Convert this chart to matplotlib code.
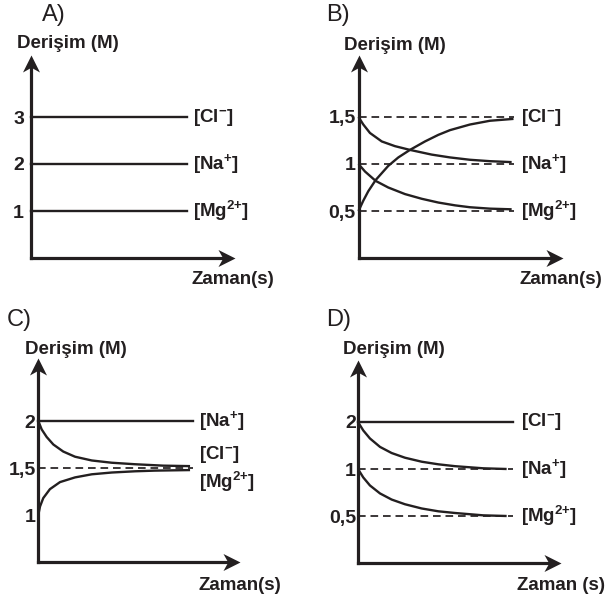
import numpy as np
import matplotlib
matplotlib.use('Agg')
import matplotlib.pyplot as plt
from matplotlib.path import Path

plt.rcParams['font.family'] = ['Liberation Sans', 'DejaVu Sans']
plt.rcParams['mathtext.fontset'] = 'custom'
plt.rcParams['mathtext.rm'] = 'Liberation Sans:bold'
plt.rcParams['mathtext.it'] = 'Liberation Sans:bold'
plt.rcParams['mathtext.bf'] = 'Liberation Sans:bold'
plt.rcParams['mathtext.sf'] = 'Liberation Sans:bold'

INK = '#231f20'
W, H = 606, 599

# ---------------- data ----------------
ion_cl = r'[Cl$^{{-}}$]'
ion_na = r'[Na$^{{+}}$]'
ion_mg = r'[Mg$^{2{+}}$]'
y_title = 'Derişim (M)'
x_title_abc = 'Zaman(s)'
x_title_d = 'Zaman (s)'
panel_letters = ['A)', 'B)', 'C)', 'D)']
t_span = [0, 10]

# Panel A: constant concentrations
a_cl, a_na, a_mg = 3, 2, 1
a_ticks = [1, 2, 3]
a_ticklabels = ['1', '2', '3']

# Panel B
b_ticks = [0.5, 1, 1.5]
b_ticklabels = ['0,5', '1', '1,5']
b_cl_t = [0, 0.31, 0.63, 1.11, 1.92, 2.57, 3.32, 4.29, 5.15, 5.90, 7.19, 8.48, 10.0]
b_cl_v = [0.5, 0.61, 0.71, 0.83, 0.98, 1.07, 1.15, 1.24, 1.31, 1.36, 1.42, 1.46, 1.48]
b_na_t = [0, 0.31, 0.74, 1.5, 2.35, 3.32, 4.72, 5.9, 7.19, 8.48, 9.88]
b_na_v = [1.5, 1.42, 1.33, 1.24, 1.19, 1.15, 1.10, 1.07, 1.045, 1.03, 1.02]
b_mg_t = [0, 0.42, 1.11, 1.92, 3.0, 4.08, 5.15, 6.23, 7.19, 8.48, 9.88]
b_mg_v = [1.0, 0.92, 0.82, 0.75, 0.68, 0.63, 0.59, 0.56, 0.54, 0.525, 0.518]

# Panel C
c_ticks = [1, 1.5, 2]
c_ticklabels = ['1', '1,5', '2']
c_na = 2
c_ref = 1.5
c_cl_t = [0, 0.22, 0.54, 0.97, 1.61, 2.37, 3.45, 4.74, 6.24, 8.06, 9.79]
c_cl_v = [2.0, 1.91, 1.83, 1.75, 1.675, 1.62, 1.58, 1.556, 1.54, 1.525, 1.52]
c_mg_t = [0, 0.11, 0.32, 0.75, 1.40, 2.37, 3.45, 4.74, 6.24, 7.5, 9.79]
c_mg_v = [1.0, 1.09, 1.18, 1.275, 1.35, 1.40, 1.433, 1.452, 1.465, 1.472, 1.478]

# Panel D
d_ticks = [0.5, 1, 2]
d_ticklabels = ['0,5', '1', '2']
d_cl = 2
d_refs = [1, 0.5]
d_t = [0, 0.34, 0.77, 1.42, 2.17, 3.03, 4.11, 5.18, 6.26, 8.08, 9.59]
d_na_v = [2.0, 1.82, 1.65, 1.47, 1.34, 1.24, 1.155, 1.10, 1.06, 1.015, 1.0]
d_mg_v = [1.0, 0.91, 0.825, 0.74, 0.675, 0.625, 0.58, 0.55, 0.532, 0.507, 0.5]

# piecewise (schematic) value scales for panels C and D
c_scale_vals, c_scale_pos = [0, 1, 2, 20], [0, 1, 3, 39]
d_scale_vals, d_scale_pos = [0, 0.5, 1, 2, 20], [0, 1, 2, 3, 21]

# ---------------- drawing ----------------
fig = plt.figure(figsize=(W / 100, H / 100), dpi=100)

arrow_right = Path([(0, 0), (-1, 0.5), (-0.72, 0), (-1, -0.5), (0, 0)],
                   [Path.MOVETO, Path.LINETO, Path.LINETO, Path.LINETO, Path.CLOSEPOLY])
arrow_up = Path([(0, 0), (-0.5, -1), (0, -0.72), (0.5, -1), (0, 0)],
                [Path.MOVETO, Path.LINETO, Path.LINETO, Path.LINETO, Path.CLOSEPOLY])

CURVE_LW = 1.7
DASH_LW = 1.25
DASH = (0, (4.4, 2.8))
TICK_FS = 14
ION_FS = 13.5
TITLE_FS = 13.5


def make_axes(x0, y0, xtip, ytip, tscale, vpx, scale=None):
    ax = fig.add_axes([x0 / W, 1 - y0 / H, (xtip - x0) / W, (y0 - ytip) / H])
    for s in ax.spines.values():
        s.set_visible(False)
    ax.set_xticks([])
    ax.set_xlim(0, (xtip - x0) / tscale)
    top_pos = (y0 - ytip) / vpx
    if scale is None:
        ax.set_ylim(0, top_pos)
    else:
        vals, pos = scale
        fwd = lambda v: np.interp(v, vals, pos)
        inv = lambda p: np.interp(p, pos, vals)
        ax.set_yscale('function', functions=(fwd, inv))
        ax.set_ylim(0, float(inv(top_pos)))
    wpx, hpx = xtip - x0, y0 - ytip
    ax.plot([0, 1 - 8 / wpx], [0, 0], transform=ax.transAxes, color=INK, lw=2.3,
            solid_capstyle='projecting', clip_on=False)
    ax.plot([0, 0], [0, 1 - 8 / hpx], transform=ax.transAxes, color=INK, lw=2.3,
            solid_capstyle='projecting', clip_on=False)
    ax.plot([1], [0], transform=ax.transAxes, marker=arrow_right, ms=24.5,
            color=INK, mew=0, clip_on=False)
    ax.plot([0], [1], transform=ax.transAxes, marker=arrow_up, ms=24.5,
            color=INK, mew=0, clip_on=False)
    return ax


def ticks(ax, vals, labels, pad):
    ax.set_yticks(vals)
    ax.set_yticklabels(labels, fontweight='bold', fontsize=TICK_FS, color=INK)
    ax.tick_params(axis='y', length=0, pad=pad)
    ax.minorticks_off()


def ion(ax, text, y, dx, dy=0):
    ax.annotate(text, xy=(t_span[1], y), xytext=(dx, dy), textcoords='offset points',
                ha='left', va='center', fontsize=ION_FS, fontweight='bold', color=INK,
                annotation_clip=False)


def curve(ax, t, v):
    ax.plot(t, v, color=INK, lw=CURVE_LW, solid_joinstyle='round',
            solid_capstyle='butt', clip_on=False)


def ftext(x, y, s, **kw):
    fig.text(x / W, 1 - y / H, s, color=INK, **kw)


# ---- Panel A ----
axA = make_axes(31, 258, 235, 55, 15.6, 47)
for lv in (a_cl, a_na, a_mg):
    axA.plot(t_span, [lv, lv], color=INK, lw=CURVE_LW, clip_on=False)
ticks(axA, a_ticks, a_ticklabels, 5.0)
ion(axA, ion_cl, a_cl, 4.3)
ion(axA, ion_na, a_na, 4.3)
ion(axA, ion_mg, a_mg, 4.3)

# ---- Panel B ----
axB = make_axes(358.5, 258, 563, 55, 15.5, 94)
for lv in b_ticks:
    axB.plot(t_span, [lv, lv], color=INK, lw=DASH_LW, ls=DASH, clip_on=False)
curve(axB, b_cl_t, b_cl_v)
curve(axB, b_na_t, b_na_v)
curve(axB, b_mg_t, b_mg_v)
ticks(axB, b_ticks, b_ticklabels, 2.0)
ion(axB, ion_cl, 1.5, 5.4)
ion(axB, ion_na, 1.0, 5.4)
ion(axB, ion_mg, 0.5, 5.4)

# ---- Panel C ----
axC = make_axes(38.3, 562, 240, 358, 15.5, 47, scale=(c_scale_vals, c_scale_pos))
axC.plot(t_span, [c_na, c_na], color=INK, lw=CURVE_LW, clip_on=False)
axC.plot(t_span, [c_ref, c_ref], color=INK, lw=DASH_LW, ls=DASH, clip_on=False)
curve(axC, c_cl_t, c_cl_v)
curve(axC, c_mg_t, c_mg_v)
ticks(axC, c_ticks, c_ticklabels, 2.0)
ion(axC, ion_na, c_na, 4.1)
ion(axC, ion_cl, c_ref, 4.1, 9.5)
ion(axC, ion_mg, c_ref, 4.1, -10)

# ---- Panel D ----
axD = make_axes(358, 563, 561, 360, 15.5, 47, scale=(d_scale_vals, d_scale_pos))
axD.plot(t_span, [d_cl, d_cl], color=INK, lw=CURVE_LW, clip_on=False)
for lv in d_refs:
    axD.plot(t_span, [lv, lv], color=INK, lw=DASH_LW, ls=DASH, clip_on=False)
curve(axD, d_t, d_na_v)
curve(axD, d_t, d_mg_v)
ticks(axD, d_ticks, d_ticklabels, 1.5)
ion(axD, ion_cl, d_cl, 5.8)
ion(axD, ion_na, d_refs[0], 5.8)
ion(axD, ion_mg, d_refs[1], 5.8)

# ---- titles ----
for (lx, ly), s in zip([(42, 15), (326, 15), (7, 320), (326, 320)], panel_letters):
    ftext(lx, ly, s, ha='left', va='center', fontsize=17)
for (cx, cy) in [(67.5, 43), (395, 45), (76, 350), (394, 350)]:
    ftext(cx, cy, y_title, ha='center', va='center', fontsize=TITLE_FS, fontweight='bold')
for (cx, cy), s in zip([(233, 280), (561, 280), (240, 585), (561, 585)],
                       [x_title_abc, x_title_abc, x_title_abc, x_title_d]):
    ftext(cx, cy, s, ha='center', va='center', fontsize=TITLE_FS, fontweight='bold')

fig.savefig('out.png', dpi=100)
